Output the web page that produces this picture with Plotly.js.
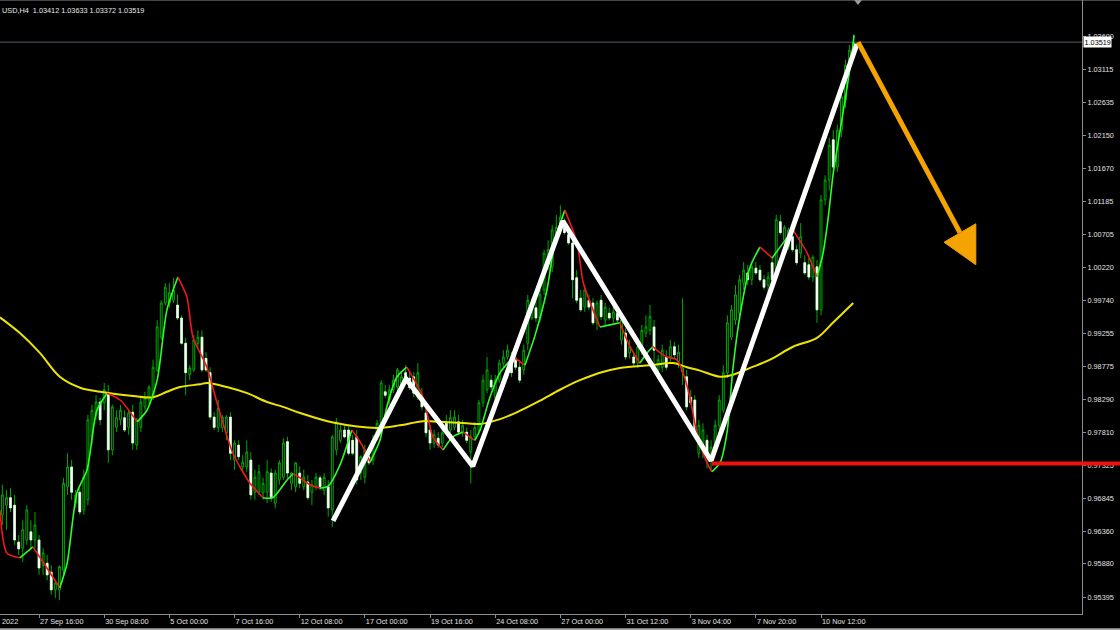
<!DOCTYPE html>
<html>
<head>
<meta charset="utf-8">
<script src="https://cdn.plot.ly/plotly-3.0.1.min.js"></script>
<style>
html,body{margin:0;padding:0;background:#000;overflow:hidden;}
#chart{width:1120px;height:630px;}
</style>
</head>
<body>
<div id="chart"></div>
<script>
// ---------------- DATA ----------------
const symbolLabel = 'USD,H4';

const opens = [
0.9579,0.9660,0.9674,0.9685,0.9674,0.9620,0.9611,0.9623,0.9635,0.9623,
0.9623,0.9586,0.9589,0.9576,0.9550,0.9550,0.9579,0.9701,0.9730,0.9677,
0.9693,0.9667,0.9682,0.9774,0.9806,0.9825,0.9824,0.9838,0.9755,0.9788,
0.9799,0.9802,0.9788,0.9810,0.9762,0.9788,0.9818,0.9828,0.9832,0.9872,
0.9920,0.9970,0.9970,0.9974,0.9967,0.9948,0.9911,0.9865,0.9872,0.9911,
0.9920,0.9889,0.9868,0.9803,0.9788,0.9788,0.9780,0.9803,0.9740,0.9762,
0.9730,0.9730,0.9740,0.9693,0.9693,0.9692,0.9693,0.9721,0.9677,0.9711,
0.9715,0.9767,0.9706,0.9701,0.9721,0.9701,0.9708,0.9693,0.9701,0.9714,
0.9696,0.9701,0.9667,0.9755,0.9769,0.9784,0.9784,0.9769,0.9774,0.9721,
0.9715,0.9745,0.9740,0.9774,0.9784,0.9840,0.9828,0.9843,0.9847,0.9850,
0.9868,0.9860,0.9862,0.9832,0.9832,0.9809,0.9784,0.9765,0.9772,0.9765,
0.9794,0.9784,0.9788,0.9796,0.9780,0.9781,0.9752,0.9774,0.9784,0.9824,
0.9843,0.9857,0.9832,0.9857,0.9882,0.9891,0.9884,0.9889,0.9876,0.9872,
0.9911,0.9948,0.9963,0.9948,0.9989,1.0026,1.0023,1.0067,1.0084,1.0081,
1.0070,1.0058,1.0007,0.9977,0.9964,0.9974,0.9970,0.9941,0.9974,0.9945,
0.9955,0.9948,0.9955,0.9916,0.9926,0.9897,0.9891,0.9882,0.9901,0.9926,
0.9930,0.9935,0.9872,0.9876,0.9891,0.9891,0.9906,0.9884,0.9869,0.9862,
0.9832,0.9828,0.9750,0.9755,0.9769,0.9743,0.9759,0.9791,0.9813,0.9868,
0.9920,0.9945,0.9955,0.9999,1.0014,1.0004,1.0021,1.0018,1.0004,0.9996,
1.0029,1.0018,1.0089,1.0062,1.0052,1.0067,1.0048,1.0043,1.0029,1.0026,
1.0008,1.0023,0.9960,1.0121,1.0150,1.0209,1.0169,1.0223,1.0267,1.0321,
1.03412];

const highs = [
0.9674,0.9704,0.9696,0.9699,0.9689,0.9630,0.9652,0.9674,0.9652,0.9664,
0.9630,0.9611,0.9601,0.9586,0.9564,0.9586,0.9714,0.9750,0.9740,0.9696,
0.9699,0.9726,0.9806,0.9821,0.9835,0.9831,0.9853,0.9850,0.9821,0.9813,
0.9821,0.9813,0.9813,0.9821,0.9802,0.9835,0.9840,0.9850,0.9887,0.9945,
0.9974,0.9999,0.9999,1.0007,0.9982,0.9952,0.9919,0.9879,0.9923,0.9930,
0.9930,0.9898,0.9876,0.9810,0.9828,0.9806,0.9806,0.9810,0.9769,0.9769,
0.9747,0.9769,0.9752,0.9726,0.9733,0.9714,0.9740,0.9728,0.9726,0.9740,
0.9772,0.9774,0.9723,0.9737,0.9731,0.9726,0.9718,0.9711,0.9721,0.9718,
0.9721,0.9711,0.9777,0.9802,0.9791,0.9791,0.9791,0.9777,0.9784,0.9747,
0.9762,0.9755,0.9777,0.9799,0.9857,0.9850,0.9850,0.9865,0.9875,0.9869,
0.9879,0.9869,0.9869,0.9882,0.9846,0.9821,0.9791,0.9784,0.9781,0.9791,
0.9806,0.9813,0.9813,0.9806,0.9799,0.9788,0.9784,0.9796,0.9828,0.9865,
0.9891,0.9865,0.9865,0.9887,0.9901,0.9909,0.9898,0.9898,0.9887,0.9909,
0.9982,0.9977,0.9974,0.9989,1.0048,1.0062,1.0084,1.0099,1.0113,1.0094,
1.0080,1.0065,1.0018,0.9989,0.9996,0.9982,0.9977,0.9974,0.9982,0.9970,
0.9963,0.9967,0.9963,0.9952,0.9933,0.9916,0.9898,0.9909,0.9938,0.9952,
0.9967,0.9945,0.9894,0.9909,0.9901,0.9916,0.9913,0.9909,0.9977,0.9872,
0.9843,0.9835,0.9799,0.9794,0.9777,0.9769,0.9799,0.9835,0.9879,0.9952,
0.9967,0.9996,1.0011,1.0030,1.0026,1.0030,1.0030,1.0026,1.0011,1.0015,
1.0036,1.0099,1.0099,1.0084,1.0080,1.0077,1.0055,1.0087,1.0040,1.0036,
1.0040,1.0033,1.0128,1.0157,1.0212,1.0223,1.0231,1.0279,1.0326,1.0348,
1.03633];

const lows = [
0.9564,0.9645,0.9638,0.9664,0.9616,0.9601,0.9591,0.9616,0.9611,0.9611,
0.9572,0.9572,0.9564,0.9543,0.9538,0.9535,0.9572,0.9689,0.9682,0.9670,
0.9660,0.9660,0.9674,0.9762,0.9799,0.9791,0.9813,0.9736,0.9747,0.9781,
0.9791,0.9781,0.9777,0.9755,0.9755,0.9781,0.9813,0.9821,0.9828,0.9869,
0.9916,0.9966,0.9963,0.9970,0.9945,0.9909,0.9835,0.9857,0.9869,0.9904,
0.9869,0.9869,0.9799,0.9784,0.9781,0.9781,0.9769,0.9740,0.9726,0.9740,
0.9723,0.9723,0.9682,0.9682,0.9689,0.9682,0.9677,0.9679,0.9670,0.9704,
0.9711,0.9714,0.9696,0.9693,0.9699,0.9696,0.9682,0.9674,0.9696,0.9696,
0.9689,0.9657,0.9642,0.9747,0.9765,0.9772,0.9747,0.9747,0.9704,0.9711,
0.9706,0.9733,0.9733,0.9769,0.9780,0.9831,0.9821,0.9838,0.9840,0.9843,
0.9850,0.9843,0.9832,0.9828,0.9813,0.9774,0.9755,0.9758,0.9758,0.9759,
0.9781,0.9780,0.9784,0.9777,0.9774,0.9765,0.9706,0.9769,0.9781,0.9818,
0.9838,0.9843,0.9828,0.9853,0.9876,0.9887,0.9862,0.9872,0.9853,0.9865,
0.9901,0.9945,0.9942,0.9942,0.9982,1.0018,1.0015,1.0062,1.0080,1.0070,
1.0055,0.9977,0.9970,0.9957,0.9957,0.9960,0.9938,0.9930,0.9945,0.9938,
0.9945,0.9941,0.9942,0.9909,0.9887,0.9889,0.9876,0.9875,0.9894,0.9920,
0.9923,0.9879,0.9865,0.9869,0.9872,0.9884,0.9889,0.9875,0.9850,0.9813,
0.9821,0.9772,0.9743,0.9743,0.9728,0.9726,0.9752,0.9784,0.9809,0.9860,
0.9916,0.9938,0.9948,0.9989,0.9996,0.9996,1.0011,1.0001,0.9989,0.9986,
1.0001,1.0011,1.0070,1.0055,1.0048,1.0045,1.0026,1.0036,1.0011,1.0004,
1.0001,0.9941,0.9952,1.0113,1.0135,1.0162,1.0162,1.0213,1.0256,1.0304,
1.03372];

const closes = [
0.9660,0.9689,0.9685,0.9670,0.9623,0.9610,0.9638,0.9667,0.9623,0.9645,
0.9582,0.9604,0.9572,0.9550,0.9560,0.9584,0.9706,0.9730,0.9693,0.9689,
0.9664,0.9715,0.9799,0.9813,0.9825,0.9799,0.9843,0.9755,0.9818,0.9802,
0.9813,0.9784,0.9809,0.9765,0.9799,0.9825,0.9831,0.9847,0.9876,0.9935,
0.9970,0.9993,0.9985,0.9989,0.9948,0.9911,0.9868,0.9875,0.9916,0.9920,
0.9872,0.9872,0.9803,0.9788,0.9816,0.9803,0.9803,0.9750,0.9765,0.9745,
0.9737,0.9752,0.9689,0.9715,0.9723,0.9706,0.9723,0.9685,0.9721,0.9736,
0.9765,0.9721,0.9721,0.9736,0.9706,0.9715,0.9685,0.9704,0.9715,0.9701,
0.9715,0.9670,0.9774,0.9796,0.9784,0.9774,0.9750,0.9750,0.9711,0.9745,
0.9755,0.9736,0.9769,0.9794,0.9853,0.9835,0.9843,0.9857,0.9872,0.9862,
0.9853,0.9846,0.9838,0.9868,0.9818,0.9780,0.9765,0.9777,0.9762,0.9780,
0.9784,0.9802,0.9803,0.9781,0.9791,0.9769,0.9774,0.9788,0.9824,0.9857,
0.9872,0.9847,0.9857,0.9882,0.9891,0.9901,0.9868,0.9876,0.9857,0.9901,
0.9974,0.9967,0.9948,0.9982,1.0043,1.0048,1.0077,1.0081,1.0096,1.0073,
1.0058,1.0004,0.9974,0.9960,0.9989,0.9964,0.9941,0.9970,0.9950,0.9964,
0.9948,0.9957,0.9945,0.9945,0.9891,0.9906,0.9882,0.9906,0.9930,0.9935,
0.9950,0.9901,0.9887,0.9901,0.9876,0.9906,0.9894,0.9898,0.9875,0.9818,
0.9824,0.9780,0.9791,0.9784,0.9747,0.9759,0.9791,0.9828,0.9868,0.9941,
0.9960,0.9982,1.0004,1.0018,1.0004,1.0023,1.0014,1.0004,0.9993,1.0008,
1.0004,1.0092,1.0073,1.0081,1.0077,1.0048,1.0029,1.0067,1.0014,1.0008,
1.0037,0.9960,1.0121,1.0150,1.0201,1.0169,1.0223,1.0272,1.0318,1.0340,
1.03519];

// fast (colour-changing) moving average: bar index / price
const fastMaBars = [0.4,2.1,5.3,8.5,11.5,15.1,16.9,19.3,21.8,24.2,26.7,29.9,34.1,36.5,39.0,41.4,44.1,46.3,47.8,51.2,
53.7,57.6,61.8,65.0,67.4,70.9,72.4,74.1,76.5,79.0,81.0,83.9,86.8,89.3,91.3,93.7,95.4,97.9,100.3,104.3,
106.7,109.2,111.6,114.1,117.0,118.3,120.7,123.2,126.4,129.3,131.8,134.7,136.7,139.1,142.1,143.6,146.0,147.7,150.2,152.6,
155.1,157.5,159.3,160.7,162.5,164.2,166.6,168.1,169.8,171.5,174.0,175.2,177.2,178.9,180.4,182.1,184.6,187.0,190.0,192.7,
195.1,198.6,201.0,202.5,203.7,205.0,206.7,208.4,209.6,210.1];
const fastMaValues = [0.9667,0.9604,0.9597,0.9613,0.9586,0.9553,0.9589,0.9692,0.9726,0.9813,0.9838,0.9828,0.9796,0.9813,0.9857,0.9960,1.0008,0.9979,0.9920,0.9876,
0.9824,0.9750,0.9706,0.9685,0.9685,0.9711,0.9720,0.9714,0.9704,0.9699,0.9702,0.9733,0.9784,0.9762,0.9737,0.9769,0.9818,0.9862,0.9876,0.9832,
0.9774,0.9755,0.9774,0.9781,0.9769,0.9784,0.9832,0.9868,0.9891,0.9879,0.9923,0.9989,1.0062,1.0106,1.0058,1.0000,0.9960,0.9935,0.9938,0.9941,
0.9906,0.9882,0.9897,0.9906,0.9897,0.9891,0.9887,0.9868,0.9832,0.9780,0.9736,0.9723,0.9736,0.9780,0.9876,0.9952,1.0023,1.0052,1.0036,1.0058,
1.0077,1.0043,1.0008,1.0043,1.0092,1.0160,1.0223,1.0286,1.0336,1.0362];

// slow (yellow) moving average
const slowMaBars = [0.4,5.3,10.2,15.1,20.1,25.0,33.1,38.0,41.4,44.6,49.5,51.2,56.1,61.1,66.0,69.9,74.1,82.2,93.0,98.6,
104.3,108.4,115.1,118.3,123.2,128.0,133.0,137.9,142.8,147.7,152.6,160.0,165.7,169.1,172.3,177.2,180.4,184.6,189.5,195.1,
201.0,204.9,209.9];
const slowMaValues = [0.9949,0.9926,0.9897,0.9862,0.9846,0.9840,0.9834,0.9832,0.9840,0.9847,0.9851,0.9853,0.9847,0.9838,0.9825,0.9818,0.9809,0.9795,0.9787,0.9791,
0.9797,0.9796,0.9794,0.9793,0.9800,0.9812,0.9827,0.9843,0.9857,0.9868,0.9875,0.9879,0.9882,0.9876,0.9871,0.9862,0.9865,0.9875,0.9887,0.9906,
0.9919,0.9941,0.9970];

// hand-drawn zig-zag (white)
const zigzagBars = [82.2,100.1,116.5,138.6,175.0,210.8];
const zigzagPrices = [0.9651,0.9859,0.9731,1.0090,0.9739,1.0349];

// hand-drawn forecast arrow (orange)
const arrowBars = [211.1,236.1];
const arrowPrices = [1.0352,1.0073];
const arrowHeadBars = [232.2,240.0,240.0,232.2];
const arrowHeadPrices = [1.0059,1.0086,1.0026,1.0059];

// red support level
const supportLevel = 0.9735;
const supportStartBar = 175.2;

// axes
const xTickBars = [10,26,42,58,74,90,106,122,138,154,170,186,202];
const xTickLabels = ['27 Sep 16:00','30 Sep 08:00','5 Oct 00:00','7 Oct 16:00','12 Oct 08:00','17 Oct 00:00','19 Oct 16:00','24 Oct 08:00','27 Oct 00:00','31 Oct 12:00','3 Nov 04:00','7 Nov 20:00','10 Nov 12:00'];
const yTickValues = [1.03600,1.03115,1.02635,1.02150,1.01670,1.01185,1.00705,1.00220,0.99740,0.99255,0.98775,0.98290,0.97810,0.97325,0.96845,0.96360,0.95880,0.95395];
const priceRange = [0.95147,1.04136];
const barRange = [0.417,266.07];

// ---------------- CHART ----------------
const FONT = 'Liberation Sans, Arial, sans-serif';
const CANDLE_GREEN = '#00A800';
const last = closes.length - 1;
const barIndex = closes.map((_, k) => k);

const traces = [];

traces.push({
  type: 'candlestick',
  x: barIndex, open: opens, high: highs, low: lows, close: closes,
  increasing: {line: {color: CANDLE_GREEN, width: 1}, fillcolor: '#000000'},
  decreasing: {line: {color: CANDLE_GREEN, width: 1}, fillcolor: '#FFFFFF'},
  whiskerwidth: 0,
  hoverinfo: 'skip'
});

// white bodies of the falling candles, drawn over the outline
(function () {
  const bx = [], bo = [], bh = [], bl = [], bc = [];
  barIndex.forEach(k => {
    if (closes[k] < opens[k]) {
      bx.push(k); bo.push(opens[k]); bc.push(closes[k]);
      bh.push(opens[k]); bl.push(closes[k]);
    }
  });
  traces.push({
    type: 'candlestick',
    x: bx, open: bo, high: bh, low: bl, close: bc,
    increasing: {line: {color: '#FFFFFF', width: 0.6}, fillcolor: '#FFFFFF'},
    decreasing: {line: {color: '#FFFFFF', width: 0.6}, fillcolor: '#FFFFFF'},
    whiskerwidth: 0,
    hoverinfo: 'skip'
  });
})();

traces.push({
  type: 'scatter', mode: 'lines',
  x: slowMaBars, y: slowMaValues,
  line: {color: '#EDE400', width: 2, shape: 'spline', smoothing: 1},
  hoverinfo: 'skip'
});

// split fast MA into rising (green) / falling (red) runs
(function () {
  let cur = {x: [fastMaBars[0]], y: [fastMaValues[0]], up: fastMaValues[1] >= fastMaValues[0]};
  const runs = [];
  for (let k = 1; k < fastMaBars.length; k++) {
    const up = fastMaValues[k] >= fastMaValues[k - 1];
    if (up !== cur.up) {
      runs.push(cur);
      cur = {x: [fastMaBars[k - 1]], y: [fastMaValues[k - 1]], up: up};
    }
    cur.x.push(fastMaBars[k]);
    cur.y.push(fastMaValues[k]);
  }
  runs.push(cur);
  runs.forEach(r => traces.push({
    type: 'scatter', mode: 'lines', x: r.x, y: r.y,
    line: {color: r.up ? '#2BFF2B' : '#F01818', width: 1.6, shape: 'spline', smoothing: 0.7},
    hoverinfo: 'skip'
  }));
})();

traces.push({
  type: 'scatter', mode: 'lines',
  x: zigzagBars, y: zigzagPrices,
  line: {color: '#FFFFFF', width: 5},
  hoverinfo: 'skip'
});

traces.push({
  type: 'scatter', mode: 'lines',
  x: arrowBars, y: arrowPrices,
  line: {color: '#F5A300', width: 5},
  hoverinfo: 'skip'
});
traces.push({
  type: 'scatter', mode: 'lines',
  x: arrowHeadBars, y: arrowHeadPrices,
  fill: 'toself', fillcolor: '#F5A300',
  line: {color: '#F5A300', width: 1},
  hoverinfo: 'skip'
});

const layout = {
  width: 1120, height: 630,
  margin: {l: 0, r: 38, t: 0, b: 16, pad: 0},
  paper_bgcolor: '#000000', plot_bgcolor: '#000000',
  showlegend: false,
  boxgap: 0.35,
  boxmode: 'overlay',
  xaxis: {
    type: 'linear', range: barRange,
    rangeslider: {visible: false},
    showgrid: false, zeroline: false,
    showline: true, linecolor: '#8C8C8C', linewidth: 1,
    ticks: 'outside', ticklen: 3, tickcolor: '#8C8C8C', tickwidth: 1,
    tickvals: xTickBars, ticktext: xTickLabels,
    ticklabelposition: 'outside right',
    tickfont: {family: FONT, size: 7.3, color: '#E0E0E0'},
    fixedrange: true
  },
  yaxis: {
    side: 'right', range: priceRange,
    showgrid: false, zeroline: false,
    showline: true, linecolor: '#8C8C8C', linewidth: 1,
    ticks: 'outside', ticklen: 3, tickcolor: '#8C8C8C', tickwidth: 1,
    tickvals: yTickValues, ticktext: yTickValues.map(v => v.toFixed(5)),
    tickfont: {family: FONT, size: 7.3, color: '#E0E0E0'},
    fixedrange: true
  },
  shapes: [
    // current price line
    {type: 'line', xref: 'paper', x0: 0, x1: 1, yref: 'y', y0: closes[last], y1: closes[last],
     line: {color: '#55586A', width: 1}, layer: 'below'},
    // support level (inside plot)
    {type: 'line', xref: 'x', x0: supportStartBar, x1: barRange[1] + 20, yref: 'y', y0: supportLevel, y1: supportLevel,
     line: {color: '#F01010', width: 4}, layer: 'above'},
    // support level continuing over the price scale
    {type: 'line', xref: 'paper', x0: 1, x1: 1.04, yref: 'y', y0: supportLevel, y1: supportLevel,
     line: {color: '#F01010', width: 4}, layer: 'above'},
    // chart-shift marker at the top
    {type: 'path', xref: 'paper', yref: 'paper', path: 'M 0.7893 1 L 0.7967 1 L 0.7930 0.9919 Z',
     fillcolor: '#9A9A9A', line: {width: 0}},
    // window edges
    {type: 'line', xref: 'paper', yref: 'paper', x0: 0, x1: 1.04, y0: 1, y1: 1, line: {color: '#8A8A8A', width: 1}},
    {type: 'rect', xref: 'paper', yref: 'paper', x0: 0, x1: 1.04, y0: -0.0265, y1: -0.0232, fillcolor: '#A8A8A8', line: {width: 0}}
  ],
  annotations: [
    {xref: 'paper', yref: 'paper', x: 0, y: 1, yshift: -10, xanchor: 'left', yanchor: 'middle', showarrow: false,
     text: symbolLabel + '  ' + opens[last].toFixed(5) + ' ' + highs[last].toFixed(5) + ' ' + lows[last].toFixed(5) + ' ' + closes[last].toFixed(5),
     font: {family: FONT, size: 7.3, color: '#E8E8E8'}},
    {xref: 'paper', yref: 'paper', x: 0, y: 0, yshift: -7, xanchor: 'left', yanchor: 'middle', showarrow: false,
     text: '2022', font: {family: FONT, size: 7.3, color: '#E0E0E0'}},
    {xref: 'paper', yref: 'y', x: 1, xshift: 1, y: closes[last], xanchor: 'left', yanchor: 'middle', showarrow: false,
     text: closes[last].toFixed(5), bgcolor: '#FFFFFF', borderpad: 0.5,
     font: {family: FONT, size: 7.3, color: '#000000'}}
  ]
};

Plotly.newPlot('chart', traces, layout, {staticPlot: true, displayModeBar: false});
</script>
</body>
</html>
